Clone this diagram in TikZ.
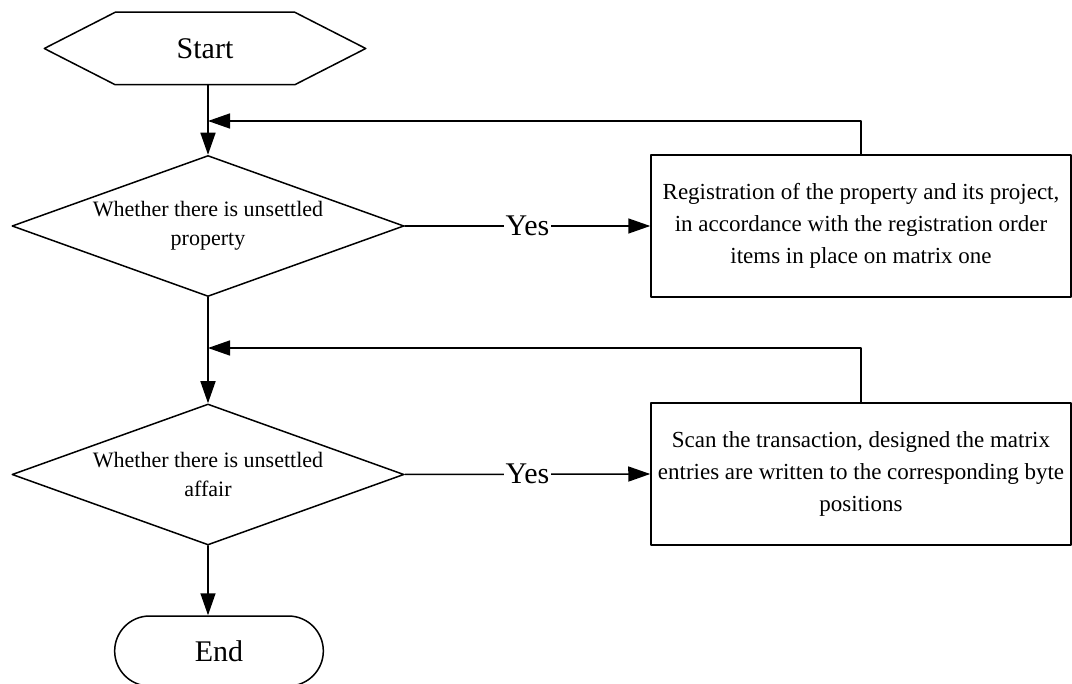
\documentclass[tikz,border=0pt]{standalone}
\usepackage{fontspec}
\setmainfont{Liberation Serif}
\usetikzlibrary{calc,arrows.meta,positioning,shapes.geometric,shapes.misc}

\tikzset{
  arr/.style={-{Triangle[length=11pt,width=7.5pt]}},
  hexa/.style={minimum width=160pt,minimum height=35.5pt,inner sep=0pt,font=\fontsize{15}{18}\selectfont},
  decision/.style={draw,diamond,aspect=2.78,minimum width=196pt,minimum height=70.5pt,inner sep=0pt,align=center,font=\fontsize{11}{14.5}\selectfont},
  procbox/.style={draw,rectangle,minimum width=210pt,minimum height=71pt,align=center,font=\fontsize{11.5}{16}\selectfont},
  terminal/.style={draw,rounded rectangle,minimum width=111pt,minimum height=35pt,font=\fontsize{15}{18}\selectfont},
  yes/.style={fill=white,inner sep=1pt,font=\fontsize{15}{18}\selectfont}
}

\begin{document}
\begin{tikzpicture}[line cap=round,line join=round,x=0.5pt,y=-0.5pt,line width=0.75pt]
\useasboundingbox (0,0) rectangle (1072,684);

% start
\node[hexa] (start) at (205,48.5) {Start};
\draw (start.west) -- ([xshift=35.5pt]start.north west) -- ([xshift=-35.5pt]start.north east)
  -- (start.east) -- ([xshift=-35.5pt]start.south east) -- ([xshift=35.5pt]start.south west) -- cycle;

% decisions and boxes
\node[decision] (q1) at (208,226) {Whether there is unsettled\\property};
\node[procbox] (box1) at (861,226) {Registration of the property and its project,\\in accordance with the registration order\\items in place on matrix one};
\node[decision] (q2) at (208,474.5) {Whether there is unsettled\\affair};
\node[procbox] (box2) at (861,474) {Scan the transaction, designed the matrix\\entries are written to the corresponding byte\\positions};
\node[terminal] (end) at (219,651) {End};

\coordinate (j1) at (208,121);
\coordinate (j2) at (208,348);

% connectors
\draw[arr] (q1.north |- start.south) -- (q1.north);
\draw[arr] (q1.east) -- node[yes] {Yes} (box1.west);
\draw[arr] (box1.north) |- (j1);
\draw[arr] (q1.south) -- (q2.north);
\draw[arr] (q2.east) -- node[yes] {Yes} (box2.west);
\draw[arr] (box2.north) |- (j2);
\draw[arr] (q2.south) -- (q2.south |- end.north);

\end{tikzpicture}
\end{document}
